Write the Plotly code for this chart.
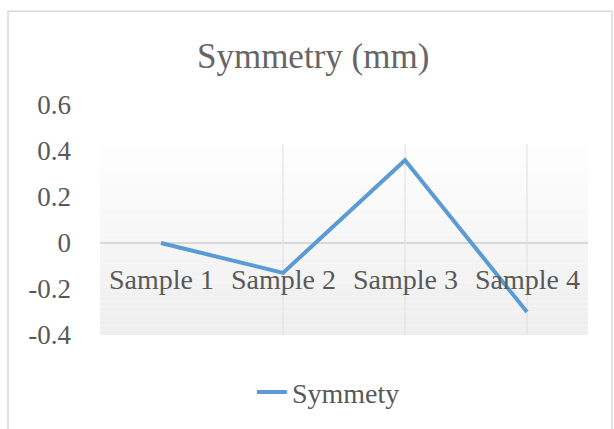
import plotly.graph_objects as go

# Chart data
categories = ["Sample 1", "Sample 2", "Sample 3", "Sample 4"]
symmetry_mm = [0.0, -0.13, 0.36, -0.30]
series_name = "Symmety"
title_text = "Symmetry (mm)"
y_ticks = [-0.4, -0.2, 0, 0.2, 0.4, 0.6]
y_tick_labels = ["-0.4", "-0.2", "0", "0.2", "0.4", "0.6"]

FONT = "Liberation Serif"
TEXT_GREY = "#595959"
GRID_GREY = "#d9d9d9"
LINE_BLUE = "#5b9bd5"

x_pos = list(range(1, len(categories) + 1))

fig = go.Figure()
fig.add_trace(go.Scatter(
    x=x_pos, y=symmetry_mm, mode="lines", name=series_name,
    line=dict(color=LINE_BLUE, width=4),
    showlegend=True,
))

# Soft vertical gradient behind the plot area (light grey at bottom fading to white)
shapes = []
n_bands = 40
grad_top = 0.83
for i in range(n_bands):
    y0 = grad_top * i / n_bands
    y1 = grad_top * (i + 1) / n_bands
    t = (i + 0.5) / n_bands
    g = int(round(238 + (254 - 238) * t))
    shapes.append(dict(
        type="rect", xref="x domain", yref="y domain",
        x0=0, x1=1, y0=y0, y1=y1,
        fillcolor=f"rgb({g},{g},{g})", line=dict(width=0), layer="below",
    ))

# Faint vertical gridlines at the inner categories, within the shaded band
for xv in x_pos[1:]:
    shapes.append(dict(
        type="line", xref="x", yref="y domain",
        x0=xv, x1=xv, y0=0, y1=grad_top,
        line=dict(color="#dedede", width=1), layer="below",
    ))

# Chart frame
shapes.append(dict(
    type="rect", xref="paper", yref="paper",
    x0=-0.1885, x1=1.049, y0=-0.6, y1=1.408,
    line=dict(color=GRID_GREY, width=1.5), fillcolor="rgba(0,0,0,0)", layer="below",
))

# Category labels sit just under the zero line
annotations = [
    dict(x=xv, y=0, xref="x", yref="y", text=lab, showarrow=False,
         yanchor="middle", yshift=-36,
         font=dict(family=FONT, size=28, color=TEXT_GREY))
    for xv, lab in zip(x_pos, categories)
]

fig.update_layout(
    width=614, height=429,
    margin=dict(l=100, r=26, t=105, b=91),
    paper_bgcolor="white", plot_bgcolor="white",
    title=dict(text=title_text, x=0.51, xref="container", xanchor="center",
               y=1 - 56 / 429, yref="container", yanchor="middle",
               font=dict(family=FONT, size=35, color="#666666")),
    shapes=shapes,
    annotations=annotations,
    showlegend=True,
    legend=dict(orientation="h", x=0.468, xanchor="center", y=-0.249, yanchor="middle",
                font=dict(family=FONT, size=28, color=TEXT_GREY),
                bgcolor="rgba(0,0,0,0)"),
    xaxis=dict(range=[0.5, 4.5], showticklabels=False, showgrid=False,
               zeroline=False, showline=False, ticks=""),
    yaxis=dict(range=[-0.4, 0.6], tickvals=y_ticks, ticktext=y_tick_labels,
               showgrid=False, zeroline=True, zerolinecolor=GRID_GREY, zerolinewidth=1.5,
               showline=False, ticks="", ticklabelstandoff=28,
               tickfont=dict(family=FONT, size=27, color=TEXT_GREY)),
)

fig.write_html("out.html")
